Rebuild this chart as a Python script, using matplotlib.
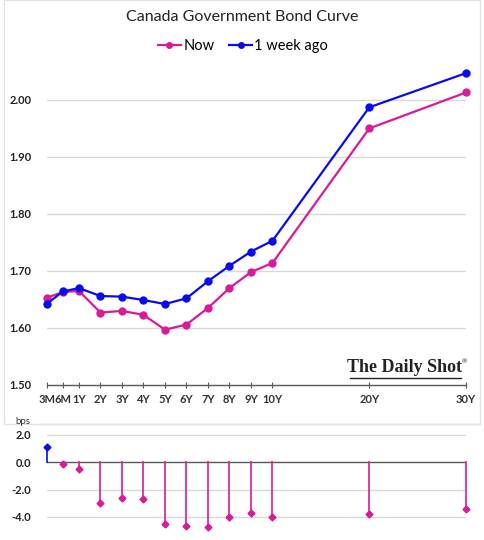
import matplotlib
matplotlib.use("Agg")
import matplotlib.pyplot as plt
from matplotlib.lines import Line2D
from matplotlib.patches import Rectangle

# ---- data ----
tenors = ["3M", "6M", "1Y", "2Y", "3Y", "4Y", "5Y", "6Y", "7Y", "8Y", "9Y", "10Y", "20Y", "30Y"]
# axis positions of the categories (Excel-like uneven spacing)
tenor_pos = [0, 0.75, 1.5, 2.5, 3.5, 4.5, 5.5, 6.5, 7.5, 8.5, 9.5, 10.5, 15.0, 19.5]
now = [1.653, 1.663, 1.665, 1.627, 1.630, 1.623, 1.597, 1.606, 1.635, 1.670, 1.698, 1.714, 1.950, 2.013]
week_ago = [1.642, 1.664, 1.670, 1.656, 1.655, 1.649, 1.642, 1.652, 1.682, 1.709, 1.734, 1.753, 1.987, 2.047]
change_bps = [1.1, -0.15, -0.5, -3.0, -2.6, -2.7, -4.5, -4.65, -4.75, -4.0, -3.7, -4.0, -3.75, -3.4]
top_yticks = [1.50, 1.60, 1.70, 1.80, 1.90, 2.00]
bot_yticks = [2.0, 0.0, -2.0, -4.0]

MAG = "#D81B98"
BLU = "#0A0AF0"
GRID = "#D9D9D9"
AXC = "#595959"

plt.rcParams['font.family'] = ['Lato', 'DejaVu Sans']

fig = plt.figure(figsize=(4.85, 5.4), dpi=100)

W, H = 485.0, 540.0
def ax_rect(x0, y0, x1, y1):
    return [x0 / W, 1 - y1 / H, (x1 - x0) / W, (y1 - y0) / H]

# panel borders
fig.add_artist(Rectangle((4 / W, 1 - 424 / H), (480 - 4) / W, 424 / H, transform=fig.transFigure,
                         fill=False, edgecolor="#E3E3E3", lw=1.0))
fig.add_artist(Line2D([38 / W, 480 / W], [1 - 423.5 / H, 1 - 423.5 / H], transform=fig.transFigure,
                      color="#E3E3E3", lw=1.0))

# ---- top chart ----
ax = fig.add_axes(ax_rect(46.7, 65.7, 466.0, 385.0))
ax.set_xlim(tenor_pos[0], tenor_pos[-1])
ax.set_ylim(1.50, 2.06)
for y in top_yticks[1:]:
    ax.axhline(y, color=GRID, lw=1.0, zorder=0)
ln_now, = ax.plot(tenor_pos, now, color=MAG, lw=1.6, marker="o", ms=5, clip_on=False, zorder=3)
ln_wk, = ax.plot(tenor_pos, week_ago, color=BLU, lw=1.6, marker="o", ms=5, clip_on=False, zorder=4)
for s in ["top", "right", "left"]:
    ax.spines[s].set_visible(False)
ax.spines["bottom"].set_color(AXC)
ax.spines["bottom"].set_linewidth(1.0)
ax.set_xticks(tenor_pos)
ax.set_xticklabels(tenors, fontsize=8, fontweight="bold", color="#333333")
ax.tick_params(axis="x", direction="inout", length=5, color=AXC, pad=4)
ax.set_yticks(top_yticks)
ax.set_yticklabels([f"{v:.2f}" for v in top_yticks], fontsize=8, fontweight="bold", color="#222222")
ax.tick_params(axis="y", length=0, pad=11)

fig.text(242 / W, 1 - 17 / H, "Canada Government Bond Curve", ha="center", va="center",
         fontsize=11.5, color="#222222")
fig.legend(handles=[ln_now, ln_wk], labels=["Now", "1 week ago"], loc="center",
           bbox_to_anchor=(243 / W, 1 - 46 / H), ncol=2, frameon=False, fontsize=10.5,
           handlelength=1.6, handletextpad=0.15, columnspacing=1.0, markerscale=0.8)

# watermark
fig.text(405 / W, 1 - 368 / H, "The Daily Shot", ha="center", va="center",
         fontsize=13, fontweight="bold", family=["Liberation Serif", "DejaVu Serif"], color="#222222")
fig.text(464 / W, 1 - 362 / H, "®", ha="center", va="center", fontsize=4.5, color="#222222")
fig.add_artist(Line2D([350 / W, 461 / W], [1 - 378 / H, 1 - 378 / H], transform=fig.transFigure,
                      color="#222222", lw=1.0))

# ---- bottom chart ----
bx = fig.add_axes(ax_rect(46.7, 426.8, 466.0, 530.6))
bx.set_xlim(tenor_pos[0], tenor_pos[-1])
bx.set_ylim(-5.0, 2.6)
for y in bot_yticks:
    if y != 0:
        bx.axhline(y, color=GRID, lw=1.0, zorder=0)
bx.axhline(0, color=AXC, lw=1.0, zorder=1)
for xp, v in zip(tenor_pos, change_bps):
    c = BLU if v > 0 else MAG
    bx.plot([xp, xp], [0, v], color=c, lw=1.2, zorder=2, clip_on=False)
    bx.plot([xp], [v], marker="D", ms=3.5, color=c, zorder=3, clip_on=False)
for s in ["top", "right", "left", "bottom"]:
    bx.spines[s].set_visible(False)
bx.set_xticks([])
bx.set_yticks(bot_yticks)
bx.set_yticklabels([f"{v:.1f}" for v in bot_yticks], fontsize=8, fontweight="bold", color="#222222")
bx.tick_params(axis="y", length=0, pad=11)
fig.text(15 / W, 1 - 421 / H, "bps", ha="left", va="center", fontsize=7, color="#333333")

fig.savefig("out.png", dpi=100)
